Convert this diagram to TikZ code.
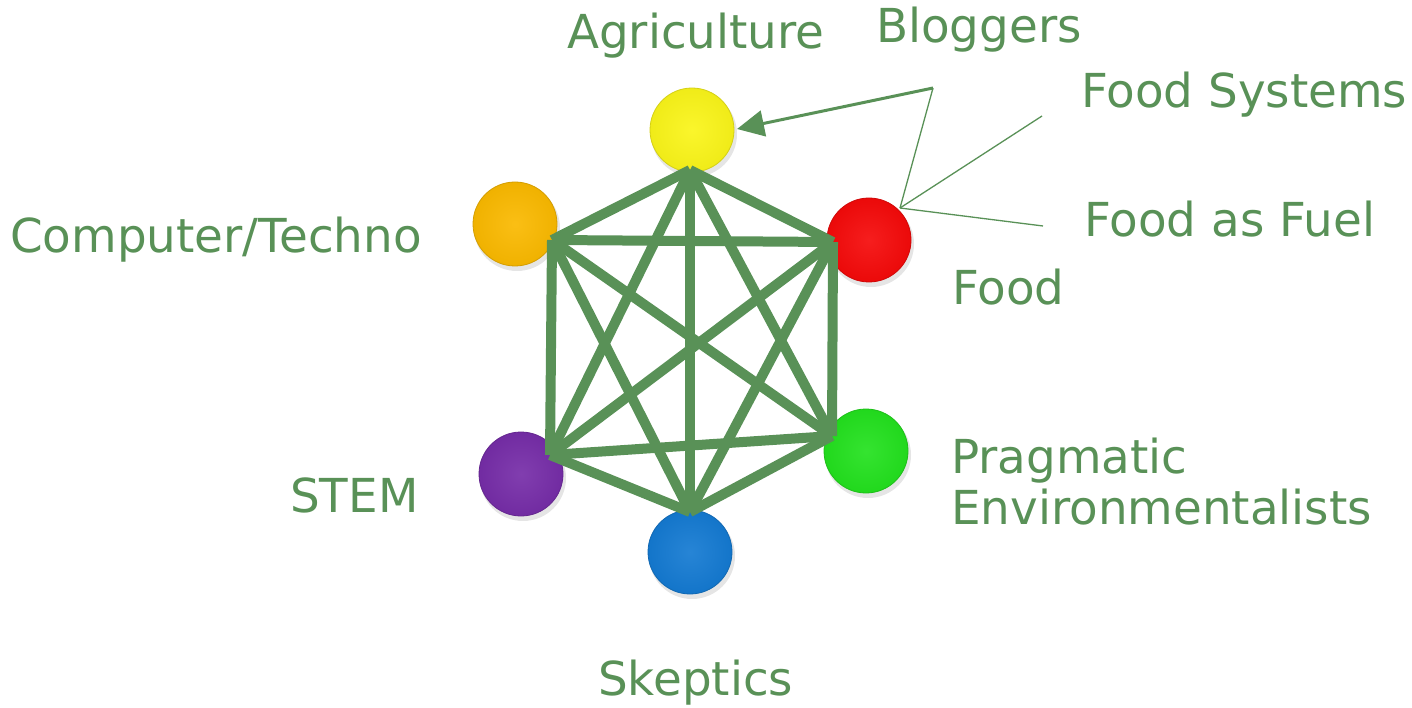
\documentclass[tikz,border=0pt]{standalone}
\usepackage{fontspec}
\setmainfont{DejaVu Sans}
\usetikzlibrary{arrows.meta}
\definecolor{gr}{RGB}{89,145,87}
\definecolor{cyel}{RGB}{250,245,25}
\definecolor{corg}{RGB}{250,185,0}
\definecolor{cred}{RGB}{245,10,10}
\definecolor{cgrn}{RGB}{35,225,30}
\definecolor{cpur}{RGB}{118,45,168}
\definecolor{cblu}{RGB}{20,122,210}
\tikzset{
  ball/.style={circle, minimum size=84pt, inner sep=0pt, draw=#1!85!black, line width=0.8pt,
     shading=radial, inner color=#1!92!white, outer color=#1!96!black},
  shadowball/.style={circle, minimum size=86pt, inner sep=0pt, fill=black!10},
  edge/.style={draw=gr, line width=10pt},
  lbl/.style={text=gr, anchor=base west, inner sep=0pt, font=\fontsize{46.8}{54}\selectfont},
  thin/.style={draw=gr, line width=1.3pt},
}
\begin{document}
\begin{tikzpicture}[x=1pt,y=-1pt]
\useasboundingbox (0,0) rectangle (1412,708);
% shadows
\foreach \x/\y in {692/130,515/224,869/240,866/451,521/474,690/552}{
  \node[shadowball] at (\x+2,\y+4) {};
}
% balls
\node[ball=cyel] (agr) at (692,130) {};
\node[ball=corg] (com) at (515,224) {};
\node[ball=cred] (foo) at (869,240) {};
\node[ball=cgrn] (pra) at (866,451) {};
\node[ball=cpur] (ste) at (521,474) {};
\node[ball=cblu] (ske) at (690,552) {};
% junction points
\coordinate (A) at (690,170);
\coordinate (C) at (552,240);
\coordinate (F) at (833,242);
\coordinate (P) at (832,436);
\coordinate (S) at (550,455);
\coordinate (K) at (690,512);
% edges
\draw[edge] (A) -- (C);
\draw[edge] (A) -- (F);
\draw[edge] (A) -- (P);
\draw[edge] (A) -- (S);
\draw[edge] (A) -- (K);
\draw[edge] (C) -- (F);
\draw[edge] (C) -- (P);
\draw[edge] (C) -- (S);
\draw[edge] (C) -- (K);
\draw[edge] (F) -- (P);
\draw[edge] (F) -- (S);
\draw[edge] (F) -- (K);
\draw[edge] (P) -- (S);
\draw[edge] (P) -- (K);
\draw[edge] (S) -- (K);
% labels
\node[lbl] (tagr) at (567,49) {Agriculture};
\node[lbl] (tblo) at (876,43) {Bloggers};
\node[lbl] (tfs) at (1081,108) {Food Systems};
\node[lbl] (tcom) at (10,253) {Computer/Techno};
\node[lbl] (tff) at (1084,237) {Food as Fuel};
\node[lbl] (tfoo) at (952,305) {Food};
\node[lbl] (tpra) at (951,473) {Pragmatic};
\node[lbl] (tenv) at (951,524) {Environmentalists};
\node[lbl] (tste) at (290,512) {STEM};
\node[lbl] (tske) at (598,695) {Skeptics};
% annotation lines
\coordinate (rp) at (900,208);
\coordinate (apex) at (933,88);
\coordinate (fsend) at (1042,116);
\coordinate (ffend) at (1043,226);
\coordinate (tip) at (737,129);
\draw[thin] (rp) -- (apex);
\draw[draw=gr, line width=3pt, -{Triangle[length=27pt,width=26pt]}] (apex) -- (tip);
\draw[thin] (rp) -- (fsend);
\draw[thin] (rp) -- (ffend);
\end{tikzpicture}
\end{document}
